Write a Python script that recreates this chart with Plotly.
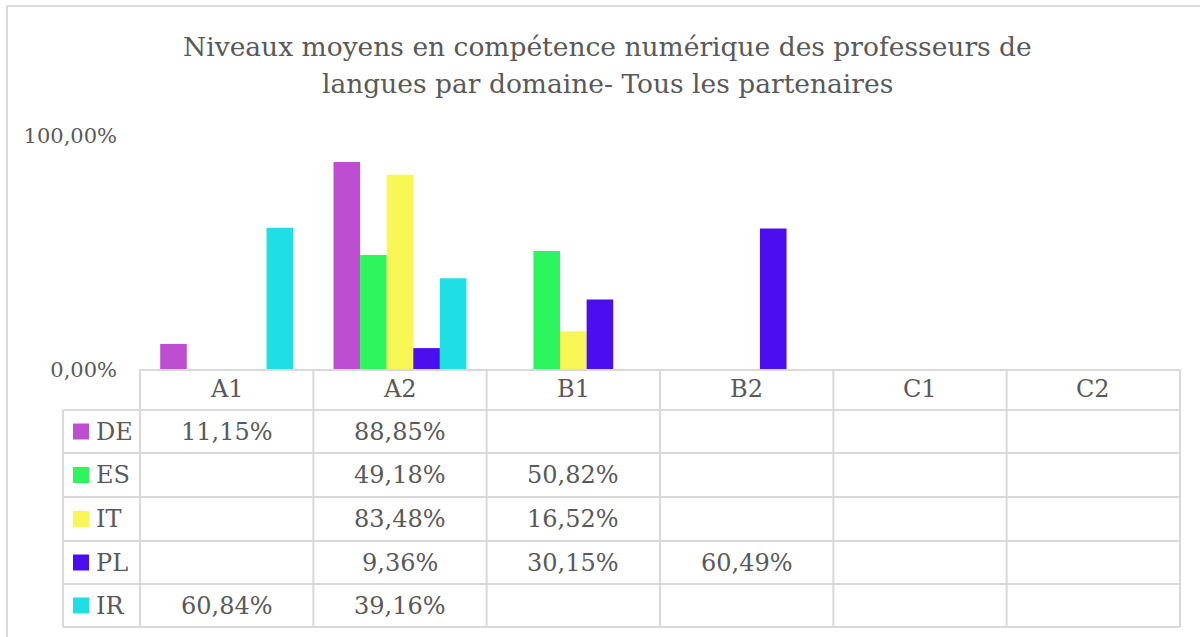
import plotly.graph_objects as go

categories = ["A1", "A2", "B1", "B2", "C1", "C2"]
series_names = ["DE", "ES", "IT", "PL", "IR"]
de_values = [0.1115, 0.8885, None, None, None, None]
es_values = [None, 0.4918, 0.5082, None, None, None]
it_values = [None, 0.8348, 0.1652, None, None, None]
pl_values = [None, 0.0936, 0.3015, 0.6049, None, None]
ir_values = [0.6084, 0.3916, None, None, None, None]
series_colors = ["#BE4ED1", "#2CF55E", "#F9F755", "#4B0EEF", "#20DEE6"]
y_ticks = [0.0, 1.0]
title_lines = ["Niveaux moyens en compétence numérique des professeurs de",
               "langues par domaine- Tous les partenaires"]

series_values = [de_values, es_values, it_values, pl_values, ir_values]

W, H = 1200, 637
L, R, T, B = 140, 20, 136, 267
PH = H - T - B
PW = W - L - R

def py(p):
    return (H - B - p) / PH

def px(p):
    return (p - L) / PW

def fmt(v):
    return ("%.2f%%" % (v * 100)).replace(".", ",")

fig = go.Figure()
for name, vals, col in zip(series_names, series_values, series_colors):
    fig.add_trace(go.Bar(x=categories, y=vals, name=name, marker_color=col,
                         marker_line_width=0, showlegend=False))

GRID = "#D9D9D9"
TXT = "#595959"
SERIF = "DejaVu Serif"
TS = 24
shapes = []
annotations = []

# table geometry (pixels)
row_edges = [410, 453, 497, 541, 584, 627]
table_left = 63
table_right = 1180

# horizontal lines
shapes.append(dict(type="line", xref="paper", yref="paper", x0=px(L - 1), x1=px(table_right),
                   y0=py(370), y1=py(370), line=dict(color=GRID, width=2)))
for r in row_edges:
    shapes.append(dict(type="line", xref="paper", yref="paper", x0=px(table_left), x1=px(table_right),
                       y0=py(r), y1=py(r), line=dict(color=GRID, width=2)))
# vertical lines at category boundaries
n = len(categories)
for i in range(n + 1):
    xp = L + PW * i / n
    shapes.append(dict(type="line", xref="paper", yref="paper", x0=px(xp), x1=px(xp),
                       y0=py(370), y1=py(row_edges[-1]), line=dict(color=GRID, width=2)))
# left edge of legend column
shapes.append(dict(type="line", xref="paper", yref="paper", x0=px(table_left), x1=px(table_left),
                   y0=py(row_edges[0]), y1=py(row_edges[-1]), line=dict(color=GRID, width=2)))
# outer chart border (top and left only visible)
shapes.append(dict(type="line", xref="paper", yref="paper", x0=px(7), x1=px(1200),
                   y0=py(6), y1=py(6), line=dict(color=GRID, width=2)))
shapes.append(dict(type="line", xref="paper", yref="paper", x0=px(7), x1=px(7),
                   y0=py(6), y1=py(637), line=dict(color=GRID, width=2)))

# header labels
for i, c in enumerate(categories):
    annotations.append(dict(x=c, xref="x", yref="paper", y=py(389), text=c, showarrow=False,
                            xanchor="center", yanchor="middle",
                            font=dict(family=SERIF, size=TS, color=TXT)))
# rows
for k, (name, vals, col) in enumerate(zip(series_names, series_values, series_colors)):
    top, bot = row_edges[k], row_edges[k + 1]
    cy = (top + bot) / 2
    shapes.append(dict(type="rect", xref="paper", yref="paper", x0=px(73), x1=px(89),
                       y0=py(cy + 8), y1=py(cy - 8), fillcolor=col, line=dict(width=0)))
    annotations.append(dict(x=px(94), xref="paper", yref="paper", y=py(cy), text=name,
                            showarrow=False, xanchor="left", yanchor="middle",
                            font=dict(family=SERIF, size=TS, color=TXT)))
    for c, v in zip(categories, vals):
        if v is not None:
            annotations.append(dict(x=c, xref="x", yref="paper", y=py(cy), text=fmt(v),
                                    showarrow=False, xanchor="center", yanchor="middle",
                                    font=dict(family=SERIF, size=TS, color=TXT)))

# title
for j, line in enumerate(title_lines):
    annotations.append(dict(x=px(607), xref="paper", yref="paper", y=py(46 + 38 * j), text=line,
                            showarrow=False, xanchor="center", yanchor="middle",
                            font=dict(family=SERIF, size=26.5, color=TXT)))

fig.update_layout(
    width=W, height=H,
    margin=dict(l=L, r=R, t=T, b=B),
    paper_bgcolor="white", plot_bgcolor="white",
    barmode="group", bargap=0.233, bargroupgap=0,
    xaxis=dict(range=[-0.5, n - 0.5], showticklabels=False, showgrid=False, zeroline=False,
               showline=False, fixedrange=True),
    yaxis=dict(range=[0, 1], tickvals=y_ticks, ticktext=[fmt(v) for v in y_ticks],
               showgrid=True, gridcolor=GRID, gridwidth=2, zeroline=False, showline=False,
               ticklabelstandoff=22, tickfont=dict(family=SERIF, size=21, color=TXT)),
    shapes=shapes, annotations=annotations,
)

fig.write_html("out.html", config={"displayModeBar": False},
               post_script="document.body.style.margin='0';")
